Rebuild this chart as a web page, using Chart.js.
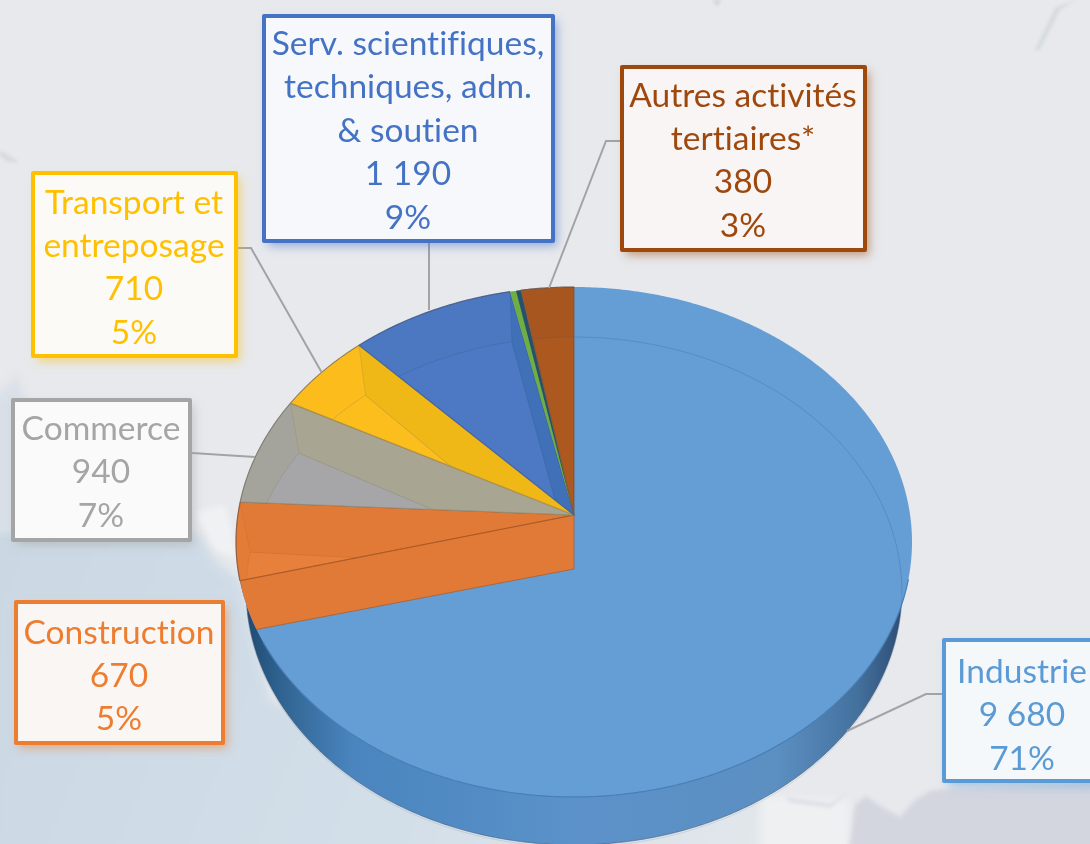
<!DOCTYPE html>
<html lang="fr">
<head>
<meta charset="utf-8">
<title>Répartition par secteur</title>
<script src="https://cdn.jsdelivr.net/npm/chart.js@4/dist/chart.umd.js"></script>
<style>
html,body{margin:0;padding:0;background:#e7e9ec;overflow:hidden}
canvas{display:block}
</style>
</head>
<body>
<canvas id="c" width="1090" height="844"></canvas>
<script>
// ---- data ----
const categories = ["Industrie","Construction","Commerce","Transport et entreposage","Serv. scientifiques, techniques, adm. & soutien","","Autres activités tertiaires*"];
const values = [9680,670,940,710,1190,80,380];
const sliceColors = ["#659dd5","#e27c36","#a4a39c","#fbbc1c","#4c78c1","#6fae45","#a8561f"];
const floorColors = ["#659dd5","#e6803a","#a6a6a8","#fcbe1c","#4d79c4","#6fae45","#ac581e"];
const wallColors  = ["#659dd5","#e07a36","#a9a593","#f0b817","#3f70b8","#27506c","#a8561f"];
const edgeColors  = ["#5b90c8","#a85a28","#8f8a70","#a8894a","#3c6099","#3c6099","#7a5a44"];
const labelColors = ["#5B9BD5","#ED7D31","#A5A5A5","#FFC000","#4472C4","","#9E480E"];
const labelFills  = ["#f5f8fb","#faf6f3","#fafafa","#fbfaf6","#f6f8fb","","#f8f5f4"];
const labelLines  = [["Industrie"],["Construction"],["Commerce"],["Transport et","entreposage"],["Serv. scientifiques,","techniques, adm.","& soutien"],[],["Autres activités","tertiaires*"]];

// ---- layout of the callouts: [left, top, right, bottom, centre x, first line y, line step] ----
const boxes = [
  [944,640,1096,781,1022,672,43.5],
  [16,602,223,743,119,633,43],
  [13,400,190,540,101,429,43.5],
  [33,173,236,356,134,203,43.3],
  [264,16,553,241,408,44,43.5],
  null,
  [622,67,865,250,743,96,43.3]
];
const leaders = [
  [[942,694],[926,694],[847,731]],
  null,
  [[192,453],[255,457]],
  [[238,248],[251,248],[322,373]],
  [[429,243],[429,310]],
  null,
  [[620,141],[606,141],[549,288]]
];

// ---- perspective of the pie plane ----
const KX=1.0216, KY=.7663, C=-.1059, BASEW=.97, D_WALL=48, D_FLOOR=50, D_APEX=54;
function pt(el,a,base,dy){
  const u=Math.cos(a), v=Math.sin(a), den=1+C*v, R=el.outerRadius;
  return [el.x+KX*R*u/den*(base?BASEW:1), el.y+KY*R*v/den+(dy||0)];
}
function arcPath(ctx,el,a0,a1,base,dy,move){
  const n=Math.max(2,Math.ceil(Math.abs(a1-a0)/0.01));
  for(let i=0;i<=n;i++){
    const p=pt(el,a0+(a1-a0)*i/n,base,dy);
    (i===0&&move)?ctx.moveTo(p[0],p[1]):ctx.lineTo(p[0],p[1]);
  }
}
function sector(ctx,el,a0,a1){ctx.beginPath();ctx.moveTo(el.x,el.y);arcPath(ctx,el,a0,a1,false,0,false);ctx.closePath();}
function quad(ctx,el,a){
  const p=pt(el,a),q=pt(el,a,true,D_FLOOR);
  ctx.beginPath();ctx.moveTo(p[0],p[1]);ctx.lineTo(el.x,el.y);ctx.lineTo(el.x,el.y+D_APEX);ctx.lineTo(q[0],q[1]);ctx.closePath();
}
const ArcEl = Chart.ArcElement || Chart.registry.getElement('arc');
ArcEl.prototype.draw = function(ctx){
  const el=this, i=sliceColors.indexOf(el.options.backgroundColor);
  const a0=el.startAngle, a1=el.endAngle;
  ctx.save();
  ctx.lineJoin='round';
  if(i===0){
    // side wall
    const g=ctx.createLinearGradient(el.x-328,0,el.x+335,0);
    g.addColorStop(0,'#1f4a72');g.addColorStop(.05,'#2f628f');g.addColorStop(.16,'#4a85bf');
    g.addColorStop(.5,'#5b92c9');g.addColorStop(.8,'#5c8fc2');g.addColorStop(.92,'#44729f');g.addColorStop(1,'#2b486e');
    ctx.beginPath();arcPath(ctx,el,0,Math.PI*2,true,D_WALL,true);ctx.closePath();ctx.fillStyle=g;ctx.fill();
    ctx.strokeStyle='rgba(60,80,110,.5)';ctx.lineWidth=1;ctx.stroke();
    // face
    sector(ctx,el,a0,a1);ctx.fillStyle=el.options.backgroundColor;ctx.fill();
    // front edge of the face
    ctx.beginPath();arcPath(ctx,el,0.25,Math.PI-0.5,false,0,true);ctx.strokeStyle='#4a7fb6';ctx.lineWidth=1.2;ctx.stroke();
    // faint far rim seen through the face
    ctx.beginPath();arcPath(ctx,el,a0,Math.PI*2+0.12,true,D_FLOOR,true);ctx.strokeStyle='rgba(60,95,140,.14)';ctx.lineWidth=1;ctx.stroke();
  } else if(i===5){
    // very thin slice: a lit strip next to its dark cut wall
    sector(ctx,el,a0,a1);ctx.fillStyle=sliceColors[i];ctx.fill();
    sector(ctx,el,a0+(a1-a0)*.55,a1);ctx.fillStyle=wallColors[i];ctx.fill();
  } else {
    ctx.save();
    sector(ctx,el,a0,a1);ctx.clip();
    ctx.fillStyle=sliceColors[i];ctx.fillRect(0,0,1090,844);
    ctx.beginPath();ctx.moveTo(el.x,el.y+D_APEX);arcPath(ctx,el,a0,a1,true,D_FLOOR,false);ctx.closePath();
    ctx.fillStyle=floorColors[i];ctx.fill();
    ctx.strokeStyle=edgeColors[i];ctx.globalAlpha=i===1?.12:.35;ctx.lineWidth=1;ctx.stroke();ctx.globalAlpha=1;
    quad(ctx,el,a1);ctx.fillStyle=wallColors[i];ctx.fill();
    ctx.globalAlpha=i===1?.12:.3;ctx.strokeStyle=edgeColors[i];ctx.stroke();ctx.globalAlpha=1;
    ctx.restore();
    if(i===1){
      // the cut wall that faces the large slice
      ctx.save();
      ctx.beginPath();arcPath(ctx,el,0,Math.PI*2,false,0,true);ctx.closePath();ctx.clip();
      quad(ctx,el,a0);ctx.fillStyle=wallColors[i];ctx.fill();
      ctx.strokeStyle=edgeColors[i];ctx.lineWidth=1;ctx.globalAlpha=.7;ctx.stroke();
      ctx.restore();
    }
    sector(ctx,el,a0,a1);ctx.strokeStyle=edgeColors[i];ctx.lineWidth=1.2;ctx.globalAlpha=.75;ctx.stroke();ctx.globalAlpha=1;
    ctx.beginPath();arcPath(ctx,el,a0,a1,false,0,true);ctx.strokeStyle='rgba(70,70,90,.35)';ctx.lineWidth=1;ctx.stroke();
  }
  ctx.restore();
};

function blob(ctx,pts,color,blur){
  ctx.save();ctx.filter='blur('+blur+'px)';ctx.fillStyle=color;ctx.beginPath();
  pts.forEach((p,i)=>i?ctx.lineTo(p[0],p[1]):ctx.moveTo(p[0],p[1]));ctx.closePath();ctx.fill();ctx.restore();
}
const backdrop={id:'backdrop',beforeDraw(chart){
  const ctx=chart.ctx;
  ctx.save();
  ctx.fillStyle='#e7e9ec';ctx.fillRect(0,0,1090,844);
  const sea=ctx.createLinearGradient(0,540,770,844);
  sea.addColorStop(0,'#cbd8e4');sea.addColorStop(.55,'#d2deE8');sea.addColorStop(1,'#e2e7eb');
  blob(ctx,[[-10,528],[120,532],[200,535],[215,560],[240,580],[270,700],[500,800],[780,790],[770,860],[-10,860]],sea,5);
  blob(ctx,[[-10,400],[10,385],[17,372],[22,395],[30,410],[30,530],[-10,530]],'#d8dfe7',4);
  blob(ctx,[[195,512],[225,505],[240,560],[215,550]],'#f0f1f3',3);
  blob(ctx,[[760,795],[850,800],[848,860],[760,860]],'#eef0f2',4);
  blob(ctx,[[848,860],[855,805],[866,796],[880,806],[900,817],[915,800],[932,790],[1100,783],[1100,860]],'#d3d6df',2);
  blob(ctx,[[785,797],[830,803],[848,793],[830,808],[790,803]],'#dfe2e6',1.5);
  blob(ctx,[[1035,50],[1055,8],[1075,0],[1060,10],[1040,50]],'#d6dbe0',1.5);
  blob(ctx,[[0,150],[10,156],[19,162],[8,162],[0,156]],'#d6dbe0',1.5);
  blob(ctx,[[712,0],[722,0],[717,7]],'#d5d9de',1);
  ctx.restore();
}};
const callouts={id:'callouts',afterDatasetsDraw(chart){
  const ctx=chart.ctx,total=values.reduce((a,b)=>a+b,0);
  ctx.save();
  leaders.forEach(l=>{ if(!l)return;
    ctx.beginPath();l.forEach((p,i)=>i?ctx.lineTo(p[0],p[1]):ctx.moveTo(p[0],p[1]));
    ctx.strokeStyle='#a3a3a3';ctx.lineWidth=2;ctx.stroke();
  });
  boxes.forEach((b,i)=>{ if(!b)return;
    const [l,t,r,bt,cx,y0,step]=b,col=labelColors[i];
    ctx.save();
    ctx.shadowColor=col+'80';ctx.shadowBlur=9;ctx.shadowOffsetX=4;ctx.shadowOffsetY=5;
    ctx.fillStyle=labelFills[i];ctx.fillRect(l,t,r-l,bt-t);
    ctx.restore();
    ctx.strokeStyle=col;ctx.lineWidth=4;ctx.lineJoin='round';ctx.strokeRect(l,t,r-l,bt-t);
    const lines=labelLines[i].concat([values[i].toLocaleString('fr-FR').replace(/\s/g,' '),Math.round(values[i]/total*100)+'%']);
    ctx.font='400 33.5px Lato';ctx.textAlign='center';ctx.textBaseline='middle';ctx.fillStyle=col;
    ctx.letterSpacing='0.01px';
    lines.forEach((s,k)=>ctx.fillText(s,cx,y0+k*step));
    ctx.letterSpacing='0px';
  });
  ctx.restore();
}};
new Chart(document.getElementById('c'),{
  type:'pie',
  data:{labels:categories,datasets:[{data:values,backgroundColor:sliceColors,borderWidth:0}]},
  options:{
    responsive:false,animation:false,
    layout:{padding:{left:58,right:0,top:186,bottom:0}},
    plugins:{legend:{display:false},tooltip:{enabled:false}}
  },
  plugins:[backdrop,callouts]
});
</script>
</body>
</html>
